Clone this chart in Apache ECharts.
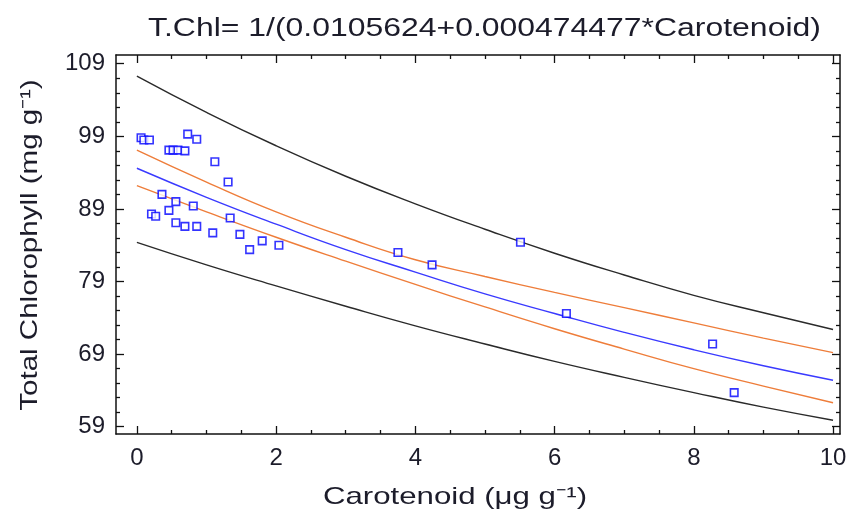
<!DOCTYPE html>
<html><head><meta charset="utf-8">
<script src="https://cdn.jsdelivr.net/npm/echarts@6/dist/echarts.min.js"></script>
<style>html,body{margin:0;padding:0;background:#fff}#c{width:859px;height:517px}</style>
</head><body><div id="c"></div>
<script>
// Observed data points
const carotenoid = [0.06,0.10,0.18,0.73,0.86,0.46,0.52,0.59,0.69,1.12,1.31,0.36,0.56,0.81,0.46,0.21,0.27,0.56,0.69,0.86,1.34,1.09,1.48,1.80,1.62,2.04,3.75,4.24,5.51,6.17,8.27,8.58];
const totalChl   = [98.8,98.5,98.5,99.3,98.6,97.1,97.1,97.1,97.0,95.5,92.7,91.0,90.0,89.4,88.8,88.3,88.0,87.1,86.6,86.6,87.75,85.7,85.5,84.6,83.4,84.0,83.0,81.3,84.4,74.6,70.4,63.7];
// Curves read at these x positions
const curveX     = [0,1,2,3,4,5,6,7,8,9,10];
const fitLine    = [94.6,90.6,86.9,83.4,80.3,77.3,74.6,72.0,69.6,67.4,65.4];
const confUpper  = [97.1,92.7,88.6,85.1,82.0,79.7,77.5,75.4,73.3,71.2,69.2];
const confLower  = [92.2,88.6,85.1,81.8,78.6,75.5,72.5,69.7,67.0,64.6,62.3];
const predUpper  = [107.3,102.3,97.7,93.5,89.7,86.2,82.9,79.9,77.1,74.7,72.4];
const predLower  = [84.4,81.3,78.4,75.6,72.9,70.4,68.0,65.8,63.7,61.7,59.9];
// Tick values
const xMajor = [0,2,4,6,8,10];
const xMinor = [0.5,1,1.5,2.5,3,3.5,4.5,5,5.5,6.5,7,7.5,8.5,9,9.5];
const yMajor = [59,69,79,89,99,109];
const yMinor = [61,63,65,67,71,73,75,77,81,83,85,87,91,93,95,97,101,103,105,107];
// Texts
const titleText = 'T.Chl= 1/(0.0105624+0.000474477*Carotenoid)';
const xName = 'Carotenoid (μg g⁻¹)';
const yName = 'Total Chlorophyll (mg g⁻¹)';

const FONT = "'Liberation Sans', Arial, sans-serif";
const TXT = '#1c1c2a';
const pair = (xs, ys) => xs.map((x,i)=>[x, ys[i]]);

const XMIN=-0.3, XMAX=10.1, YMIN=58, YMAX=110.2;
function xAx(pos, vals, len, labels, line){
  return {type:'value', min:XMIN, max:XMAX, position:pos, splitLine:{show:false},
    axisLine:{show:line, onZero:false, lineStyle:{color:'#111', width:1.5}},
    axisTick:{show:true, inside:true, length:len, customValues:vals, lineStyle:{color:'#111', width:1.3}},
    axisLabel:{show:labels, customValues:vals, margin:12, fontSize:24, color:TXT, fontFamily:FONT}};
}
function yAx(pos, vals, len, labels, line){
  return {type:'value', min:YMIN, max:YMAX, position:pos, splitLine:{show:false},
    axisLine:{show:line, onZero:false, lineStyle:{color:'#111', width:1.5}},
    axisTick:{show:true, inside:true, length:len, customValues:vals, lineStyle:{color:'#111', width:1.3}},
    axisLabel:{show:labels, customValues:vals, margin:11, fontSize:24, color:TXT, fontFamily:FONT}};
}
const lineS = (data, color, w) => ({type:'line', data, symbol:'none', smooth:true,
  lineStyle:{color, width:w}, z:2, silent:true});

const chart = echarts.init(document.getElementById('c'));
chart.setOption({
  animation:false,
  graphic:[
    {type:'text', x:148, y:29, scaleX:1.205, style:{text:titleText, font:"26.5px "+FONT, fill:TXT,
      textAlign:'left', textVerticalAlign:'middle'}},
    {type:'text', x:455, y:497, scaleX:1.3, style:{text:xName, font:"24px "+FONT, fill:TXT,
      textAlign:'center', textVerticalAlign:'middle'}},
    {type:'text', x:30, y:245, rotation:Math.PI/2, scaleX:1.23, style:{text:yName, font:"24px "+FONT, fill:TXT,
      textAlign:'center', textVerticalAlign:'middle'}}
  ],
  grid:{left:116, right:19, top:55, bottom:83},
  xAxis:[xAx('bottom', xMajor, 8, true, true), xAx('bottom', xMinor, 4, false, false),
         xAx('top', xMajor, 8, false, true), xAx('top', xMinor, 4, false, false)],
  yAxis:[yAx('left', yMajor, 8, true, true), yAx('left', yMinor, 4, false, false),
         yAx('right', yMajor, 8, false, true), yAx('right', yMinor, 4, false, false)],
  series:[
    lineS(pair(curveX, predUpper), '#2a2a2a', 1.4),
    lineS(pair(curveX, predLower), '#2a2a2a', 1.4),
    lineS(pair(curveX, confUpper), '#ee7d3a', 1.4),
    lineS(pair(curveX, confLower), '#ee7d3a', 1.4),
    lineS(pair(curveX, fitLine), '#3a3aff', 1.4),
    {type:'scatter', data:pair(carotenoid, totalChl), symbol:'rect', symbolSize:7.5, z:5,
      itemStyle:{color:'#fff', borderColor:'#0000ff', borderWidth:1.6}}
  ]
});
</script></body></html>
